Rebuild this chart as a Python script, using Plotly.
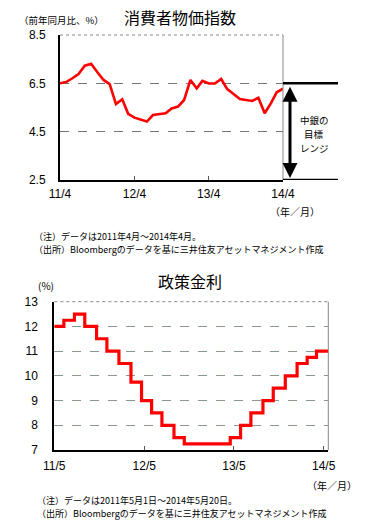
import plotly.graph_objects as go
import pandas as pd

# ---- Top chart: consumer price index (YoY %) ----
cpi_months = pd.date_range("2011-04-01", periods=37, freq="MS")
cpi_values = [6.50, 6.55, 6.71, 6.88, 7.23, 7.31, 6.97, 6.64, 6.47, 5.64,
              5.84, 5.24, 5.08, 4.99, 4.92, 5.19, 5.22, 5.26, 5.46, 5.54,
              5.81, 6.64, 6.29, 6.60, 6.49, 6.49, 6.68, 6.26, 6.06, 5.85,
              5.81, 5.77, 5.90, 5.26, 5.68, 6.13, 6.28]
cpi_tick_dates = ["2011-04-01", "2012-04-01", "2013-04-01", "2014-04-01"]
cpi_tick_labels = ["11/4", "12/4", "13/4", "14/4"]
cpi_y_ticks = [2.5, 4.5, 6.5, 8.5]
target_low, target_high = 2.5, 6.5

# ---- Bottom chart: policy rate (%) ----
rate_dates = ["2011-05-01", "2011-06-09", "2011-07-22", "2011-09-02", "2011-10-20",
              "2011-12-01", "2012-01-19", "2012-03-08", "2012-04-20", "2012-05-31",
              "2012-07-12", "2012-08-30", "2012-10-11", "2013-04-16", "2013-05-28",
              "2013-07-09", "2013-08-27", "2013-10-08", "2013-11-26", "2014-01-13",
              "2014-02-23", "2014-04-02", "2014-05-20"]
rate_values = [12.0, 12.25, 12.5, 12.0, 11.5, 11.0, 10.5, 9.75, 9.0, 8.5,
               8.0, 7.5, 7.25, 7.5, 8.0, 8.5, 9.0, 9.5, 10.0, 10.5,
               10.75, 11.0, 11.0]
rate_tick_dates = ["2011-05-01", "2012-05-01", "2013-05-01", "2014-05-01"]
rate_tick_labels = ["11/5", "12/5", "13/5", "14/5"]

W, H = 371, 530
def px(x): return x / W
def py(y): return 1 - y / H

JP = "Noto Sans CJK JP"
NUM = "Liberation Sans"

fig = go.Figure()
fig.add_trace(go.Scatter(x=cpi_months, y=cpi_values, mode="lines",
                         line=dict(color="#FF0000", width=2.6),
                         xaxis="x", yaxis="y", showlegend=False))
fig.add_trace(go.Scatter(x=rate_dates, y=rate_values, mode="lines",
                         line=dict(color="#FF0000", width=3.2, shape="hv"),
                         xaxis="x2", yaxis="y2", showlegend=False))

# plot geometry (pixels)
T_L, T_R, T_T, T_B = 60, 283, 35, 180
B_L, B_R, B_T, B_B = 54.3, 328.3, 301.7, 450

fig.update_layout(
    width=W, height=H, autosize=False,
    margin=dict(l=0, r=0, t=0, b=0, pad=0),
    paper_bgcolor="white", plot_bgcolor="white",
    xaxis=dict(domain=[px(T_L), px(T_R)], anchor="y", type="date",
               range=["2011-04-01", "2014-04-01"],
               tickvals=cpi_tick_dates, ticktext=cpi_tick_labels,
               showgrid=False, zeroline=False, automargin=False,
               showline=True, linecolor="black", linewidth=2,
               ticks="inside", ticklen=4, tickcolor="#555555",
               tickfont=dict(family=NUM, size=12, color="black"),
               ticklabelstandoff=2),
    yaxis=dict(domain=[py(T_B), py(T_T)], anchor="x",
               range=[2.5, 8.5], tickvals=cpi_y_ticks,
               ticktext=[f"{v:.1f}" for v in cpi_y_ticks],
               showgrid=True, gridcolor="#777777", griddash="dash", gridwidth=1,
               zeroline=False, showline=True, linecolor="black", linewidth=2,
               ticks="", automargin=False,
               tickfont=dict(family=NUM, size=12, color="black"),
               ticklabelstandoff=10),
    xaxis2=dict(domain=[px(B_L), px(B_R)], anchor="y2", type="date",
                range=["2011-05-01", "2014-05-20"],
                tickvals=rate_tick_dates, ticktext=rate_tick_labels,
                showgrid=False, zeroline=False, automargin=False,
                showline=True, linecolor="black", linewidth=2,
                ticks="inside", ticklen=4, tickcolor="#555555",
                tickfont=dict(family=NUM, size=12, color="black"),
                ticklabelstandoff=4),
    yaxis2=dict(domain=[py(B_B), py(B_T)], anchor="x2",
                range=[7, 13], dtick=1,
                showgrid=True, gridcolor="#8a9a8a", griddash="dash", gridwidth=1,
                zeroline=False, showline=True, linecolor="black", linewidth=2,
                ticks="", automargin=False,
                tickfont=dict(family=NUM, size=12, color="black"),
                ticklabelstandoff=12),
)

shapes = []
# top/right frame lines (gray)
for (l, r, t, b) in [(T_L, T_R, T_T, T_B), (B_L, B_R, B_T, B_B)]:
    shapes.append(dict(type="line", xref="paper", yref="paper",
                       x0=px(l), x1=px(r), y0=py(t), y1=py(t),
                       line=dict(color="#888888", width=1, dash="dot")))
    shapes.append(dict(type="line", xref="paper", yref="paper",
                       x0=px(r), x1=px(r), y0=py(b), y1=py(t),
                       line=dict(color="#888888", width=1)))
# target range lines
for v in (target_high, target_low):
    shapes.append(dict(type="line", xref="paper", yref="y",
                       x0=px(T_R), x1=px(338), y0=v, y1=v,
                       line=dict(color="black", width=2.5)))
fig.update_layout(shapes=shapes)

ann = []
# double-headed arrow for target range
range_px = (T_B - T_T) * (target_high - target_low) / 6.0
ann.append(dict(xref="paper", yref="y", axref="pixel", ayref="pixel",
                x=px(290), y=target_low, ax=0, ay=-(range_px - 4),
                yshift=2,
                showarrow=True, arrowhead=2, arrowside="end+start",
                arrowsize=1, arrowwidth=3, arrowcolor="black", text=""))
for i, t in enumerate(["中銀の", "目標", "レンジ"]):
    ann.append(dict(xref="paper", yref="paper", x=px(314), y=py(120 + 14 * i),
                    text=t, showarrow=False,
                    font=dict(family=JP, size=9.5, color="black"),
                    xanchor="center", yanchor="middle"))
# titles
ann.append(dict(xref="paper", yref="paper", x=px(180), y=py(17),
                text="消費者物価指数", showarrow=False,
                font=dict(family=JP, size=16, color="black"),
                xanchor="center", yanchor="middle"))
ann.append(dict(xref="paper", yref="paper", x=px(17), y=py(20),
                text="（前年同月比、%）", showarrow=False,
                font=dict(family=JP, size=9.5, color="black"),
                xanchor="left", yanchor="middle"))
ann.append(dict(xref="paper", yref="paper", x=px(190), y=py(281),
                text="政策金利", showarrow=False,
                font=dict(family=JP, size=16, color="black"),
                xanchor="center", yanchor="middle"))
ann.append(dict(xref="paper", yref="paper", x=px(36), y=py(285),
                text="(%)", showarrow=False,
                font=dict(family=JP, size=10, color="black"),
                xanchor="left", yanchor="middle"))
# (年/月)
ann.append(dict(xref="paper", yref="paper", x=px(295), y=py(211),
                text="（年／月）", showarrow=False,
                font=dict(family=JP, size=10, color="black"),
                xanchor="center", yanchor="middle"))
ann.append(dict(xref="paper", yref="paper", x=px(332), y=py(485),
                text="（年／月）", showarrow=False,
                font=dict(family=JP, size=10, color="black"),
                xanchor="center", yanchor="middle"))
# notes
notes = [
    (32, 236, "（注）データは2011年4月～2014年4月。"),
    (32, 249, "（出所）Bloombergのデータを基に三井住友アセットマネジメント作成"),
    (35, 500, "（注）データは2011年5月1日～2014年5月20日。"),
    (35, 513, "（出所）Bloombergのデータを基に三井住友アセットマネジメント作成"),
]
for x, y, t in notes:
    ann.append(dict(xref="paper", yref="paper", x=px(x), y=py(y),
                    text=t, showarrow=False,
                    font=dict(family=JP, size=9, color="black"),
                    xanchor="left", yanchor="middle"))
fig.update_layout(annotations=ann)

fig.write_html("out.html", config={"displayModeBar": False},
               post_script="document.body.style.margin='0';document.body.style.overflow='hidden';")
